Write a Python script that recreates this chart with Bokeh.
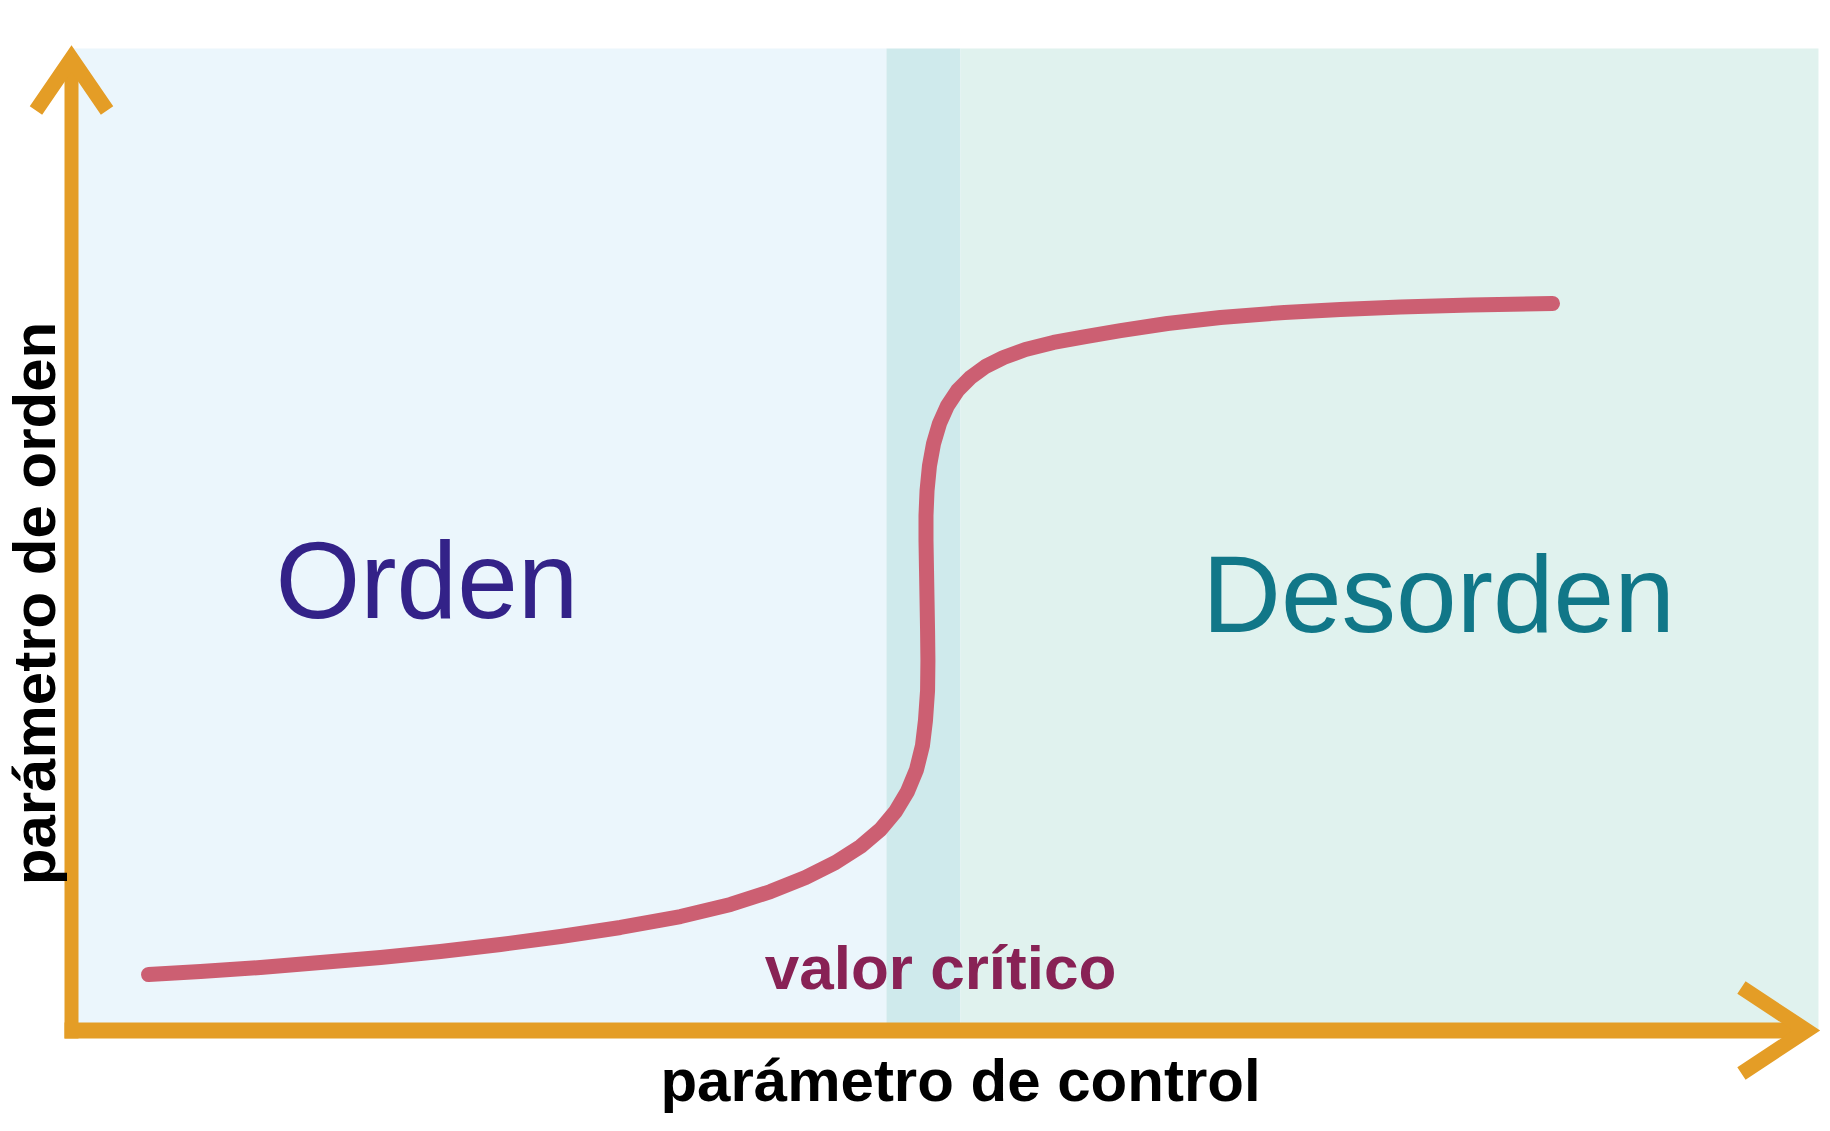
from bokeh.plotting import figure
from bokeh.models import Range1d
from bokeh.core.properties import value
from bokeh.embed import file_html
from bokeh.resources import INLINE

# ---- data (control parameter 0..100, order parameter 0..100) ----
curve_control = [4.40, 7.37, 10.79, 14.22, 17.65, 21.07, 24.50, 27.93, 31.35, 34.78,
                 37.64, 39.92, 41.92, 43.63, 45.06, 46.20, 47.06, 47.74, 48.26, 48.60,
                 48.77, 48.89, 48.91, 48.89, 48.86, 48.83, 48.80, 48.80, 48.86, 49.00,
                 49.23, 49.57, 50.03, 50.60, 51.34, 52.20, 53.23, 54.48, 56.08, 57.91,
                 59.91, 62.59, 65.62, 69.27, 72.47, 75.90, 79.90, 84.58]
curve_order = [5.67, 5.98, 6.38, 6.89, 7.40, 8.00, 8.71, 9.52, 10.44, 11.55,
               12.77, 14.08, 15.50, 17.02, 18.64, 20.36, 22.19, 24.21, 26.44, 28.88,
               31.41, 34.45, 37.49, 40.53, 43.57, 46.61, 49.65, 52.18, 54.71, 57.24,
               59.47, 61.50, 63.32, 64.84, 66.16, 67.27, 68.19, 69.00, 69.71, 70.31,
               70.92, 71.63, 72.24, 72.75, 73.05, 73.30, 73.51, 73.66]

region_left = [0.0, 46.54, 50.77]
region_right = [46.54, 50.77, 99.77]
region_colors = ["#EBF6FC", "#CFEAEC", "#E0F2EE"]
region_top = 99.49

region_labels = ["Orden", "Desorden"]
region_label_x = [20.30, 78.07]
region_label_y = [45.69, 44.27]
region_label_colors = ["#332288", "#117788"]

critical_label = "valor crítico"
critical_x, critical_y = 49.63, 6.38

x_title = "parámetro de control"
x_title_pos = (50.77, -5.06)
y_title = "parámetro de orden"
y_title_pos = (-2.12, 43.26)

AXIS = "#E49D26"
FONT = "Liberation Sans"

W, H = 1826, 1126
p = figure(width=W, height=H, output_backend="svg", toolbar_location=None,
           x_range=Range1d(-4.055, 100.228), y_range=Range1d(-9.726, 104.357),
           min_border=0)
p.xaxis.visible = False
p.yaxis.visible = False
p.xgrid.visible = False
p.ygrid.visible = False
p.outline_line_color = None
p.background_fill_color = "white"
p.border_fill_color = "white"

# background regions
p.quad(left=region_left, right=region_right, bottom=[0, 0, 0], top=[region_top] * 3,
       fill_color=region_colors, line_color=None)

# curve
p.line(curve_control, curve_order, line_color="#CC5F72", line_width=15,
       line_cap="round", line_join="round")

# axes (shafts)
p.line([0, 0], [-0.81, 98.48], line_color=AXIS, line_width=14, line_cap="butt")
p.line([-0.40, 99.09], [0, 0], line_color=AXIS, line_width=16, line_cap="butt")
# arrow heads
p.line([-2.03, 0, 2.03], [93.21, 98.48, 93.21], line_color=AXIS, line_width=15,
       line_cap="butt", line_join="miter")
p.line([95.37, 99.09, 95.37], [4.36, 0, -4.36], line_color=AXIS, line_width=15,
       line_cap="butt", line_join="miter")

# texts
p.text(x=region_label_x, y=region_label_y, text=region_labels,
       text_color=region_label_colors, text_font=value(FONT), text_font_size="109px",
       text_align="center", text_baseline="alphabetic")
p.text(x=[critical_x], y=[critical_y], text=[critical_label], text_color="#882255",
       text_font=value(FONT), text_font_size="62px", text_font_style="bold",
       text_align="center", text_baseline="alphabetic")
p.text(x=[x_title_pos[0]], y=[x_title_pos[1]], text=[x_title], text_color="black",
       text_font=value(FONT), text_font_size="60px", text_font_style="bold",
       text_align="center", text_baseline="alphabetic")
p.text(x=[y_title_pos[0]], y=[y_title_pos[1]], text=[y_title], text_color="black",
       angle=1.5707963,
       text_font=value(FONT), text_font_size="60px", text_font_style="bold",
       text_align="center", text_baseline="alphabetic")

open("out.html", "w").write(file_html(p, INLINE))
